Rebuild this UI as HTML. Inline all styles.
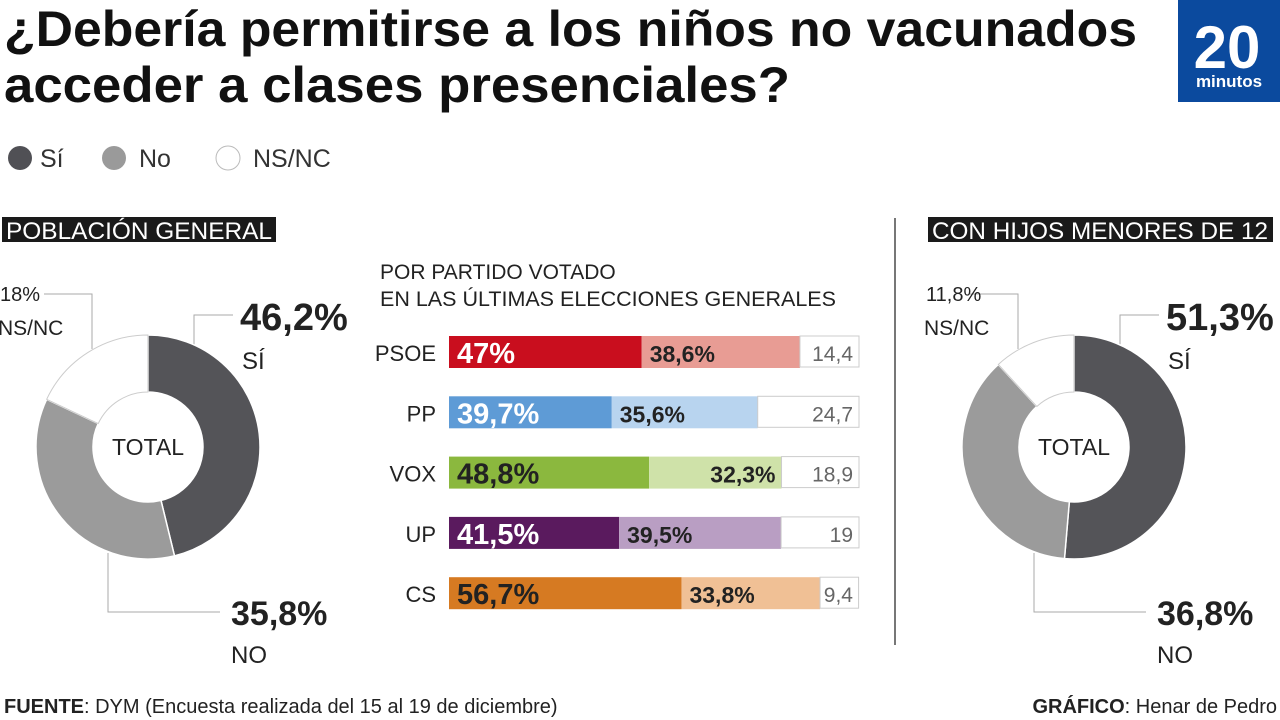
<!DOCTYPE html>
<html><head><meta charset="utf-8">
<style>
html,body{margin:0;padding:0;background:#fff;}
body{width:1280px;height:720px;position:relative;overflow:hidden;font-family:"Liberation Sans Narrow","Liberation Sans",sans-serif;color:#222;}
svg{position:absolute;left:0;top:0;}
</style></head>
<body>
<svg id="chart" width="1280" height="720" font-family="'Liberation Sans Narrow','Liberation Sans',sans-serif">
  <text x="4" y="46" font-size="50" font-weight="bold" fill="#111" textLength="1133" lengthAdjust="spacingAndGlyphs">¿Debería permitirse a los niños no vacunados</text>
  <text x="4" y="102" font-size="50" font-weight="bold" fill="#111" textLength="786" lengthAdjust="spacingAndGlyphs">acceder a clases presenciales?</text>
  <g>
    <rect x="1178" y="0" width="102" height="102" fill="#0b4a9e"/>
    <text x="1227" y="68" font-size="60" font-weight="bold" fill="#fff" text-anchor="middle" font-family="'Liberation Sans',sans-serif">20</text>
    <text x="1229" y="87" font-size="17" font-weight="bold" fill="#fff" text-anchor="middle" font-family="'Liberation Sans',sans-serif">minutos</text>
  </g>
  <g font-size="25" fill="#333">
    <g><circle cx="20" cy="158" r="12" fill="#505055"/><text x="40" y="167">Sí</text></g>
    <g><circle cx="114" cy="158" r="12" fill="#9a9a9a"/><text x="139" y="167">No</text></g>
    <g><circle cx="228" cy="158" r="12" fill="#fff" stroke="#bbb"/><text x="253" y="167">NS/NC</text></g>
  </g>
  <g>
    <rect x="2" y="217" width="274" height="25" fill="#1a1a1a"/>
    <text x="6" y="239" font-size="24" fill="#fff" textLength="266" lengthAdjust="spacingAndGlyphs">POBLACIÓN GENERAL</text>
  </g>
  <g>
    <rect x="928" y="217" width="345" height="25" fill="#1a1a1a"/>
    <text x="932" y="239" font-size="24" fill="#fff" textLength="336" lengthAdjust="spacingAndGlyphs">CON HIJOS MENORES DE 12</text>
  </g>
  <line x1="895" y1="218" x2="895" y2="645" stroke="#777" stroke-width="2"/>
  <text x="380" y="279" font-size="21" fill="#222">POR PARTIDO VOTADO</text>
  <text x="380" y="306" font-size="21" fill="#222" textLength="456" lengthAdjust="spacingAndGlyphs">EN LAS ÚLTIMAS ELECCIONES GENERALES</text>
  <g id="donuts"></g>
  <g id="bars"></g>
  <g font-size="20" fill="#222">
    <text x="4" y="713"><tspan font-weight="bold">FUENTE</tspan>: DYM (Encuesta realizada del 15 al 19 de diciembre)</text>
    <text x="1277" y="713" text-anchor="end"><tspan font-weight="bold">GRÁFICO</tspan>: Henar de Pedro</text>
  </g>
</svg>
<script>
const donutNames = ['general','hijos'];
const donutSi = [46.2, 51.3];
const donutNo = [35.8, 36.8];
const donutNs = [18, 11.8];
const donutSiLabel = ['46,2%','51,3%'];
const donutNoLabel = ['35,8%','36,8%'];
const donutNsLabel = ['18%','11,8%'];

const parties = ['PSOE','PP','VOX','UP','CS'];
const siVals = [47, 39.7, 48.8, 41.5, 56.7];
const noVals = [38.6, 35.6, 32.3, 39.5, 33.8];
const nsVals = [14.4, 24.7, 18.9, 19, 9.4];
const siLabels = ['47%','39,7%','48,8%','41,5%','56,7%'];
const noLabels = ['38,6%','35,6%','32,3%','39,5%','33,8%'];
const nsLabels = ['14,4','24,7','18,9','19','9,4'];

const NS='http://www.w3.org/2000/svg';
function mk(tag,attrs,parent){const e=document.createElementNS(NS,tag);for(const k in attrs)e.setAttribute(k,attrs[k]);parent.appendChild(e);return e;}

const dg=document.getElementById('donuts');
const centers=[[148,447],[1074,447]];
const R=112, r=55;
function pt(cx,cy,rad,frac){const a=frac*2*Math.PI;return [cx+rad*Math.sin(a),cy-rad*Math.cos(a)];}
function arc(cx,cy,f0,f1){
  const large=(f1-f0)>0.5?1:0;
  const [x0,y0]=pt(cx,cy,R,f0),[x1,y1]=pt(cx,cy,R,f1),[x2,y2]=pt(cx,cy,r,f1),[x3,y3]=pt(cx,cy,r,f0);
  return `M${x0},${y0}A${R},${R} 0 ${large} 1 ${x1},${y1}L${x2},${y2}A${r},${r} 0 ${large} 0 ${x3},${y3}Z`;
}
donutNames.forEach((n,i)=>{
  const [cx,cy]=centers[i];
  const tot=donutSi[i]+donutNo[i]+donutNs[i];
  const s=donutSi[i]/tot, no=donutNo[i]/tot;
  const g=mk('g',{},dg);
  
  
  const lc='#aaa';
  mk('polyline',{points:`${cx+46},${cy-100} ${cx+46},${cy-132} ${cx+85},${cy-132}`,fill:'none',stroke:lc},g);
  mk('polyline',{points:`${cx-40},${cy+106} ${cx-40},${cy+165} ${cx+72},${cy+165}`,fill:'none',stroke:lc},g);
  mk('polyline',{points:`${cx-104},${cy-153} ${cx-56},${cy-153} ${cx-56},${cy-98}`,fill:'none',stroke:lc},g);
  const p1=mk('path',{d:arc(cx,cy,0,s),fill:'#545458',stroke:'#fff','stroke-width':1.5},g);
  
  
  const p2=mk('path',{d:arc(cx,cy,s,s+no),fill:'#9b9b9b',stroke:'#fff','stroke-width':1.5},g);
  
  
  const p3=mk('path',{d:arc(cx,cy,s+no,1-0.0001),fill:'#fff',stroke:'#ccc','stroke-width':1},g);
  
  
  const t=mk('text',{x:cx,y:cy+8,'font-size':23,'text-anchor':'middle',fill:'#222'},g);t.textContent='TOTAL';
  
  
  const a=mk('text',{x:cx+92,y:cy-117,'font-size':38,'font-weight':'bold',fill:'#222'},g);a.textContent=donutSiLabel[i];
  
  
  const a2=mk('text',{x:cx+94,y:cy-78,'font-size':24,fill:'#222'},g);a2.textContent='SÍ';
  const b=mk('text',{x:cx+83,y:cy+178,'font-size':34,'font-weight':'bold',fill:'#222'},g);b.textContent=donutNoLabel[i];
  
  
  const b2=mk('text',{x:cx+83,y:cy+216,'font-size':24,fill:'#222'},g);b2.textContent='NO';
  const c=mk('text',{x:cx-148,y:cy-146,'font-size':20,fill:'#222'},g);c.textContent=donutNsLabel[i];
  
  
  const c2=mk('text',{x:cx-150,y:cy-112,'font-size':21,fill:'#222'},g);c2.textContent='NS/NC';
});

const bg=document.getElementById('bars');
const x0=449, W=410, y0=336, step=60.3, h=32;
const dark=['#c90e1e','#5e9bd6','#8bb83e','#5a1a5e','#d67a22'];
const light=['#e89c94','#b8d4ef','#cfe2a9','#b99ec3','#f0c095'];
const siText=['#fff','#fff','#222','#fff','#222'];
const xs=v=>v/100*W;
parties.forEach((p,i)=>{
  const y=y0+i*step;
  const g=mk('g',{},bg);
  
  
  const l=mk('text',{x:436,y:y+25,'font-size':22,'text-anchor':'end',fill:'#222'},g);l.textContent=p;
  const w1=xs(siVals[i]),w2=xs(noVals[i]),w3=xs(nsVals[i]);
  const r1=mk('rect',{x:x0,y:y,width:w1,height:h,fill:dark[i]},g);
  
  
  const r2=mk('rect',{x:x0+w1,y:y,width:w2,height:h,fill:light[i]},g);
  
  
  const r3=mk('rect',{x:x0+w1+w2,y:y,width:w3,height:h-1,fill:'#fff',stroke:'#ccc'},g);
  
  
  const t1=mk('text',{x:x0+8,y:y+27,'font-size':29,'font-weight':'bold',fill:siText[i]},g);t1.textContent=siLabels[i];
  const t2=mk('text',{x:(i==2?x0+w1+w2-6:x0+w1+8),y:y+26,'font-size':23,'font-weight':'bold',fill:'#222','text-anchor':(i==2?'end':'start')},g);t2.textContent=noLabels[i];
  const t3=mk('text',{x:x0+W-6,y:y+25,'font-size':21,fill:'#666','text-anchor':'end'},g);t3.textContent=nsLabels[i];
});
</script>
</body></html>
